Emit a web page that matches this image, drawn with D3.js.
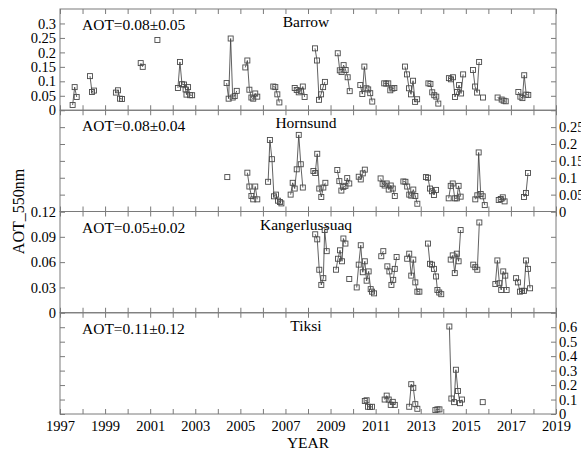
<!DOCTYPE html>
<html>
<head>
<meta charset="utf-8">
<script src="https://cdn.jsdelivr.net/npm/d3@7"></script>
<style>
  body { margin: 0; background: #fff; }
</style>
</head>
<body>
<svg id="chart" width="581" height="451"></svg>
<script>
// Data: each station is a list of seasonal segments, each a list of [decimal year, AOT 550nm]
const barrow = [
    [[1997.56, 0.018], [1997.65, 0.080], [1997.74, 0.046]],
    [[1998.33, 0.118], [1998.42, 0.063], [1998.51, 0.068]],
    [[1999.48, 0.061], [1999.57, 0.069], [1999.66, 0.040], [1999.75, 0.039]],
    [[2000.58, 0.163], [2000.67, 0.150]],
    [[2001.32, 0.243]],
    [[2002.23, 0.077], [2002.32, 0.167], [2002.41, 0.090], [2002.50, 0.089], [2002.57, 0.072], [2002.61, 0.054], [2002.68, 0.080], [2002.77, 0.052], [2002.86, 0.052]],
    [[2004.39, 0.094], [2004.48, 0.040], [2004.57, 0.248], [2004.66, 0.044], [2004.75, 0.049], [2004.84, 0.067]],
    [[2005.22, 0.148], [2005.31, 0.172], [2005.40, 0.071], [2005.49, 0.044], [2005.57, 0.040], [2005.66, 0.058], [2005.75, 0.047]],
    [[2006.46, 0.082], [2006.55, 0.080], [2006.64, 0.055], [2006.73, 0.027]],
    [[2007.41, 0.077], [2007.50, 0.070], [2007.59, 0.062], [2007.68, 0.067], [2007.77, 0.082], [2007.85, 0.046]],
    [[2008.31, 0.214], [2008.40, 0.172], [2008.49, 0.036], [2008.58, 0.055], [2008.67, 0.080], [2008.75, 0.098]],
    [[2009.32, 0.197], [2009.41, 0.138], [2009.49, 0.132], [2009.58, 0.156], [2009.67, 0.139], [2009.76, 0.114], [2009.85, 0.066]],
    [[2010.32, 0.087], [2010.41, 0.056], [2010.50, 0.151], [2010.59, 0.076], [2010.67, 0.072], [2010.76, 0.059], [2010.85, 0.030]],
    [[2011.38, 0.093], [2011.47, 0.092], [2011.56, 0.093], [2011.65, 0.069], [2011.74, 0.075], [2011.83, 0.077]],
    [[2012.30, 0.151], [2012.39, 0.124], [2012.48, 0.076], [2012.57, 0.055], [2012.66, 0.102], [2012.75, 0.029], [2012.84, 0.038]],
    [[2013.34, 0.093], [2013.43, 0.091], [2013.51, 0.062], [2013.60, 0.052], [2013.69, 0.047], [2013.78, 0.023]],
    [[2014.25, 0.111], [2014.34, 0.107], [2014.43, 0.114], [2014.52, 0.046], [2014.61, 0.063], [2014.70, 0.087], [2014.79, 0.058], [2014.88, 0.124]],
    [[2015.32, 0.139], [2015.41, 0.082], [2015.50, 0.061], [2015.59, 0.167]],
    [[2015.76, 0.044]],
    [[2016.41, 0.044], [2016.59, 0.037], [2016.68, 0.033], [2016.77, 0.031]],
    [[2017.33, 0.063], [2017.42, 0.047], [2017.51, 0.042], [2017.59, 0.121], [2017.68, 0.054], [2017.77, 0.053]]
];

const hornsund = [
    [[2004.42, 0.102]],
    [[2005.31, 0.115], [2005.40, 0.074], [2005.49, 0.046], [2005.57, 0.036], [2005.66, 0.074], [2005.75, 0.036]],
    [[2006.23, 0.088], [2006.31, 0.212], [2006.40, 0.155], [2006.49, 0.045], [2006.58, 0.050], [2006.67, 0.032], [2006.76, 0.028], [2006.82, 0.024]],
    [[2007.23, 0.050], [2007.32, 0.085], [2007.41, 0.068], [2007.50, 0.125], [2007.59, 0.227], [2007.68, 0.140], [2007.77, 0.071]],
    [[2008.24, 0.120], [2008.32, 0.114], [2008.41, 0.171], [2008.50, 0.068], [2008.59, 0.043], [2008.68, 0.071], [2008.77, 0.085]],
    [[2009.30, 0.123], [2009.39, 0.090], [2009.48, 0.062], [2009.57, 0.073], [2009.66, 0.076], [2009.74, 0.099], [2009.83, 0.083]],
    [[2010.25, 0.103], [2010.34, 0.095], [2010.43, 0.113], [2010.52, 0.124]],
    [[2011.22, 0.098], [2011.31, 0.082], [2011.40, 0.077], [2011.49, 0.083], [2011.58, 0.065], [2011.67, 0.077], [2011.76, 0.068], [2011.85, 0.046]],
    [[2012.23, 0.089], [2012.32, 0.088], [2012.40, 0.074], [2012.49, 0.050], [2012.58, 0.047], [2012.67, 0.065], [2012.76, 0.046], [2012.85, 0.023]],
    [[2013.23, 0.102], [2013.32, 0.100], [2013.41, 0.068], [2013.50, 0.060], [2013.59, 0.049], [2013.68, 0.064]],
    [[2014.24, 0.039], [2014.33, 0.076], [2014.42, 0.083], [2014.51, 0.039], [2014.60, 0.039], [2014.68, 0.076], [2014.77, 0.044]],
    [[2015.42, 0.036], [2015.51, 0.048], [2015.57, 0.175], [2015.66, 0.052], [2015.75, 0.045], [2015.84, 0.019]],
    [[2016.46, 0.034], [2016.55, 0.037], [2016.64, 0.042], [2016.72, 0.030]],
    [[2017.58, 0.043], [2017.67, 0.055], [2017.76, 0.114]]
];

const kangerlussuaq = [
    [[2008.32, 0.093], [2008.41, 0.087], [2008.50, 0.051], [2008.59, 0.033], [2008.68, 0.041], [2008.74, 0.098], [2008.83, 0.073]],
    [[2009.24, 0.051], [2009.33, 0.064], [2009.42, 0.074], [2009.51, 0.061], [2009.57, 0.088], [2009.66, 0.082]],
    [[2009.83, 0.040]],
    [[2010.16, 0.030], [2010.25, 0.057], [2010.34, 0.080], [2010.43, 0.048], [2010.52, 0.061], [2010.60, 0.038], [2010.69, 0.049], [2010.78, 0.028], [2010.84, 0.025], [2010.93, 0.023]],
    [[2011.25, 0.067], [2011.34, 0.073]],
    [[2011.52, 0.055], [2011.61, 0.049], [2011.70, 0.033], [2011.78, 0.039], [2011.85, 0.052], [2011.93, 0.066]],
    [[2012.40, 0.064], [2012.49, 0.070], [2012.58, 0.044], [2012.67, 0.063], [2012.76, 0.036], [2012.85, 0.025], [2012.94, 0.025]],
    [[2013.32, 0.082], [2013.41, 0.058], [2013.50, 0.057], [2013.59, 0.052], [2013.68, 0.043], [2013.74, 0.027], [2013.82, 0.024], [2013.91, 0.022]],
    [[2014.33, 0.063], [2014.42, 0.068], [2014.51, 0.047], [2014.60, 0.070], [2014.68, 0.061], [2014.77, 0.098]],
    [[2015.33, 0.057], [2015.42, 0.054], [2015.51, 0.051], [2015.60, 0.107]],
    [[2016.31, 0.034], [2016.40, 0.062], [2016.49, 0.035], [2016.57, 0.027], [2016.66, 0.049], [2016.75, 0.044], [2016.81, 0.027]],
    [[2017.23, 0.041], [2017.31, 0.036], [2017.40, 0.025], [2017.49, 0.026], [2017.58, 0.026], [2017.67, 0.062], [2017.76, 0.052], [2017.85, 0.029]]
];

const tiksi = [
    [[2010.52, 0.090], [2010.60, 0.095], [2010.66, 0.050], [2010.75, 0.048], [2010.84, 0.050]],
    [[2011.40, 0.100], [2011.49, 0.127], [2011.58, 0.100], [2011.67, 0.063], [2011.76, 0.084], [2011.85, 0.063]],
    [[2012.49, 0.050], [2012.58, 0.206], [2012.67, 0.181], [2012.76, 0.068], [2012.85, 0.036]],
    [[2013.65, 0.027], [2013.74, 0.032], [2013.83, 0.032]],
    [[2014.27, 0.605], [2014.36, 0.107], [2014.48, 0.082], [2014.56, 0.306], [2014.65, 0.159], [2014.74, 0.075], [2014.83, 0.100]],
    [[2015.75, 0.082]]
];

const stationNames = ["Barrow", "Hornsund", "Kangerlussuaq", "Tiksi"];
const stationMeans = ["AOT=0.08\u00b10.05", "AOT=0.08\u00b10.04", "AOT=0.05\u00b10.02", "AOT=0.11\u00b10.12"];
const yMax = [0.35, 0.3, 0.12, 0.7];
const yTicks = [
    [0, 0.05, 0.1, 0.15, 0.2, 0.25, 0.3],
    [0, 0.05, 0.1, 0.15, 0.2, 0.25],
    [0, 0.03, 0.06, 0.09, 0.12],
    [0, 0.1, 0.2, 0.3, 0.4, 0.5, 0.6]
];
const labelSide = ["left", "right", "left", "right"];
const yearTicks = d3.range(1997, 2020);
const yearLabels = d3.range(1997, 2020, 2);

// Layout
const svg = d3.select('#chart');
const serif = '"Liberation Serif", "Times New Roman", Times, serif';
const margin = { left: 60, right: 25, top: 9, bottom: 37 };
const W = 581, H = 451;
const plotW = W - margin.left - margin.right;
const panelH = (H - margin.top - margin.bottom) / 4;
const frameColor = '#7a7a7a';

const x = d3.scaleLinear().domain([1997, 2019]).range([margin.left, margin.left + plotW]);
const series = [barrow, hornsund, kangerlussuaq, tiksi];

series.forEach((segs, i) => {

    const top = margin.top + i * panelH;
    const bottom = top + panelH;
    const y = d3.scaleLinear().domain([0, yMax[i]]).range([bottom, top]);
    const fmt = d => String(+d.toFixed(2));
    const g = svg.append('g');

    // Year ticks, inward on top and bottom edges
    g.append('g')
        .attr('transform', `translate(0,${top})`)
        .call(d3.axisTop(x).tickValues(yearTicks).tickSize(-5).tickSizeOuter(0).tickFormat(''));
    g.append('g')
        .attr('transform', `translate(0,${bottom})`)
        .call(d3.axisBottom(x).tickValues(yearTicks).tickSize(-5).tickSizeOuter(0).tickPadding(7)
            .tickFormat(i === 3 ? (d => yearLabels.includes(d) ? d : '') : ''));

    // Left and right value ticks, inward
    g.append('g')
        .attr('transform', `translate(${margin.left},0)`)
        .call(d3.axisLeft(y).tickValues(yTicks[i]).tickSize(-5).tickSizeOuter(0).tickPadding(4)
            .tickFormat(labelSide[i] === 'left' ? fmt : ''));
    g.append('g')
        .attr('transform', `translate(${margin.left + plotW},0)`)
        .call(d3.axisRight(y).tickValues(yTicks[i]).tickSize(-5).tickSizeOuter(0).tickPadding(3)
            .tickFormat(labelSide[i] === 'right' ? fmt : ''));

    g.selectAll('.domain').remove();
    g.selectAll('.tick line').attr('stroke', frameColor);
    g.selectAll('.tick text')
        .style('font-family', serif)
        .style('font-size', '14.5px')
        .attr('fill', '#000');

    // Frame
    g.append('rect')
        .attr('x', margin.left).attr('y', top)
        .attr('width', plotW).attr('height', panelH)
        .attr('fill', 'none').attr('stroke', frameColor).attr('stroke-width', 1);

    // Annotations
    g.append('text')
        .attr('x', margin.left + 22).attr('y', top + 21)
        .style('font-family', serif).style('font-size', '15.5px')
        .text(stationMeans[i]);
    g.append('text')
        .attr('x', 306).attr('y', top + 18)
        .attr('text-anchor', 'middle')
        .style('font-family', serif).style('font-size', '15.5px')
        .text(stationNames[i]);

    // Connected seasonal segments
    const line = d3.line().x(d => x(d[0])).y(d => y(d[1]));
    g.selectAll('path.seg')
        .data(segs.filter(s => s.length > 1))
        .join('path')
        .attr('class', 'seg')
        .attr('d', line)
        .attr('fill', 'none')
        .attr('stroke', '#3a3a3a')
        .attr('stroke-width', 0.8);

    // Square markers
    const s = 5;
    g.selectAll('rect.pt')
        .data(segs.flat())
        .join('rect')
        .attr('class', 'pt')
        .attr('x', d => x(d[0]) - s / 2)
        .attr('y', d => y(d[1]) - s / 2)
        .attr('width', s).attr('height', s)
        .attr('fill', 'none')
        .attr('stroke', '#4a4a4a')
        .attr('stroke-width', 0.9);
});

// Axis titles
svg.append('text')
    .attr('transform', `translate(24,${margin.top + 2 * panelH}) rotate(-90)`)
    .attr('text-anchor', 'middle')
    .style('font-family', serif).style('font-size', '16px')
    .text('AOT_550nm');
svg.append('text')
    .attr('x', 308).attr('y', 448)
    .attr('text-anchor', 'middle')
    .style('font-family', serif).style('font-size', '15.5px')
    .text('YEAR');
</script>
</body>
</html>
